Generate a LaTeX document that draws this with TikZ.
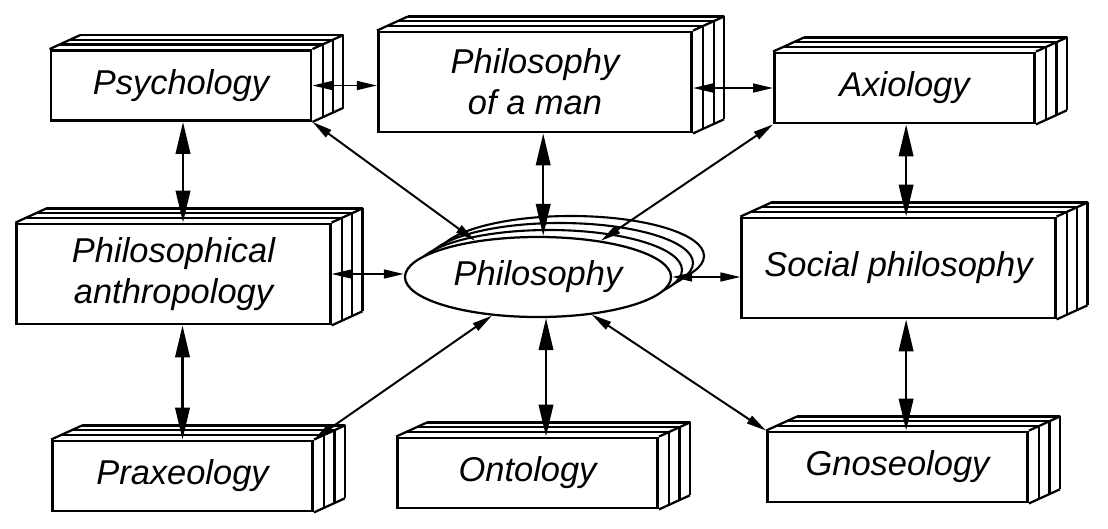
\documentclass[tikz,border=0pt]{standalone}
\usepackage{fontspec}
\setmainfont{Liberation Sans}
\usetikzlibrary{positioning,arrows.meta,calc,shapes.geometric}
\tikzset{
  slab/.style={draw, fill=white, line width=2pt, inner sep=0pt, align=center, font=\itshape\fontsize{24.5}{29}\selectfont, minimum width=6.5cm, minimum height=1.75cm},
  bigslab/.style={slab, minimum width=7.83cm, minimum height=2.5cm},
  hub/.style={slab, ellipse, line width=1.6pt, minimum width=6.65cm, minimum height=2cm},
  rim/.style={draw, fill=white, line width=1.5pt},
  sheet/.style={line width=1.6pt, line join=round},
  link/.style={{Triangle[length=5mm,width=2.2mm]}-{Triangle[length=5mm,width=2.2mm]}, line width=1.4pt},
  biglink/.style={{Triangle[length=8mm,width=3.6mm]}-{Triangle[length=8mm,width=3.6mm]}, line width=1.8pt}}

\begin{document}
\begin{tikzpicture}[x=0.025cm, y=-0.025cm]
\useasboundingbox (0,0) rectangle (1108,528);
% boxes
\node[slab] (psy) at (181,85.5) {Psychology};
\node[bigslab] (pom) at (535,82) {Philosophy\\of a man};
\node[slab] (axi) at (904.5,88) {Axiology};
\node[bigslab] (ant) at (173.5,274) {Philosophical\\anthropology};
\node[bigslab] (soc) at (898.5,268) {Social philosophy};
\node[slab] (pra) at (182.5,476) {Praxeology};
\node[slab] (ont) at (527.5,473) {Ontology};
\node[slab] (gno) at (897.5,467) {Gnoseology};
% stacked sheets behind each box
\foreach \n in {psy,pom,axi,ant,soc,pra,ont,gno}{
  \foreach \k in {1,2,3}
    \draw[sheet] ($(\n.north west)+\k*(10.3,-4.7)$) -- ($(\n.north east)+\k*(10.3,-4.7)$) -- ($(\n.south east)+\k*(10.3,-4.7)$);
  \draw[sheet] (\n.north west) -- ++(30.9,-14.1) (\n.north east) -- ++(30.9,-14.1) (\n.south east) -- ++(30.9,-14.1);
}
% centre
\coordinate (phc) at (538,277);
\foreach \k in {3,2,1}
  \draw[rim] ($(phc)+\k*(11,-7)$) ellipse [x radius=133, y radius=40];
\node[hub] (phil) at (phc) {Philosophy};
% connections
\draw[link] (psy.east) -- (psy.east -| pom.west);
\draw[link] (pom.east |- axi.west) -- (axi.west);
\draw[link] (ant.east) -- (ant.east -| phil.west);
\draw[link] (phil.east) -- (phil.east -| soc.west);
\draw[link] (psy.south east) -- (phil.150);
\draw[link] (axi.south west) -- (phil.30);
\draw[link] (pra.north east) -- (phil.220);
\draw[link] (gno.north west) -- (phil.-35);
\draw[biglink] ([xshift=0.05cm]psy.south) -- ([xshift=0.05cm]psy.south |- ant.north);
\draw[biglink] (pra.north) -- (pra.north |- ant.south);
\draw[biglink] ([xshift=0.13cm]phil.north) -- ([xshift=0.13cm]phil.north |- pom.south);
\draw[biglink] ([xshift=0.2cm]phil.south) -- ([xshift=0.2cm]phil.south |- ont.north);
\draw[biglink] ([xshift=0.04cm]axi.south) -- ([xshift=0.04cm]axi.south |- soc.north);
\draw[biglink] ([xshift=0.04cm]axi.south |- soc.south) -- ([xshift=0.04cm]axi.south |- gno.north);
\end{tikzpicture}
\end{document}
